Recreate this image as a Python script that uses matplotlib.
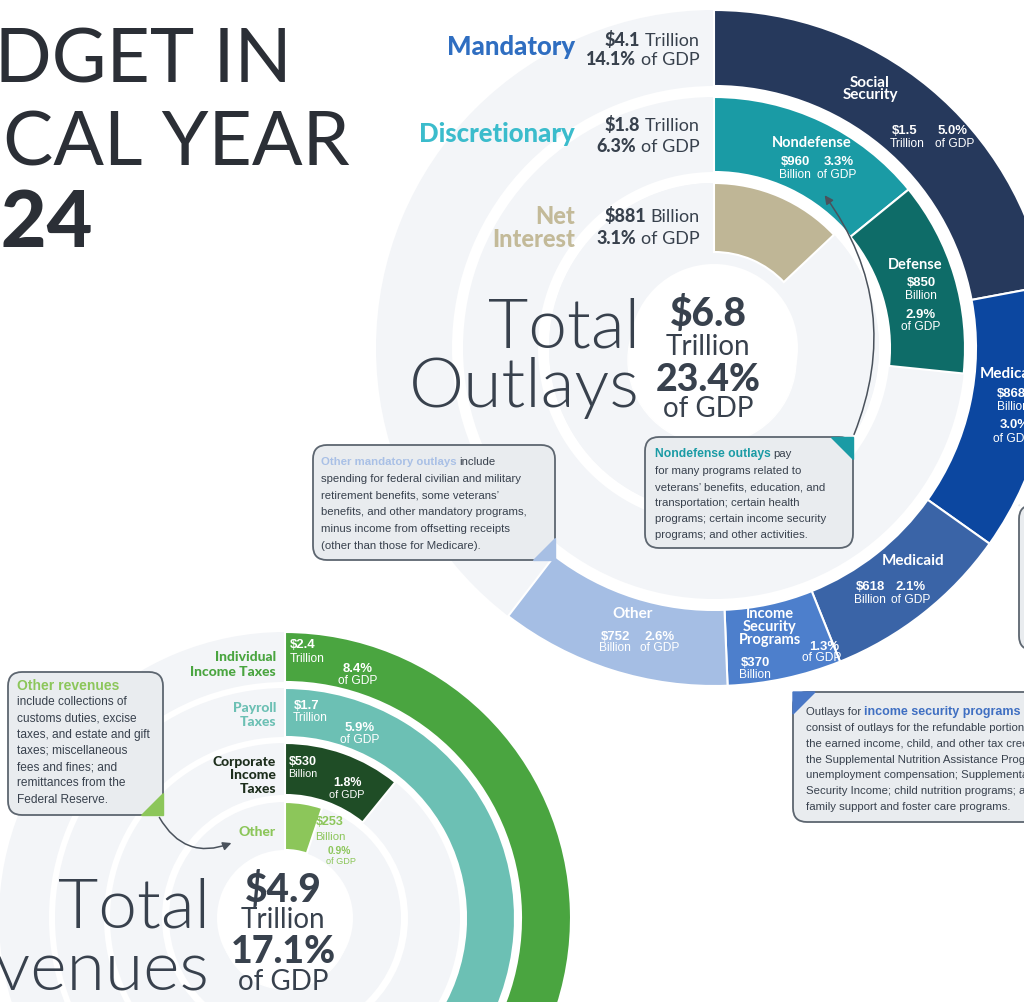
import matplotlib
matplotlib.use('Agg')
import matplotlib.pyplot as plt
from matplotlib.patches import Wedge, Circle, FancyBboxPatch, Polygon, FancyArrowPatch
from matplotlib import font_manager as fm

# ---- data (billions of dollars, % of GDP) ----
mand_names = ['Social\nSecurity', 'Medicare', 'Medicaid', 'Income\nSecurity\nPrograms', 'Other']
mand_vals = [1500, 868, 618, 370, 752]
mand_pct = [5.0, 3.0, 2.1, 1.3, 2.6]
disc_names = ['Nondefense', 'Defense']
disc_vals = [960, 850]
disc_pct = [3.3, 2.9]
int_vals = [881]
int_pct = [3.1]

group_names = ['Mandatory', 'Discretionary', 'Net\nInterest']
group_amt = ['$4.1', '$1.8', '$881']
group_unit = ['Trillion', 'Trillion', 'Billion']
group_pct = [14.1, 6.3, 3.1]

rev_names = ['Individual\nIncome Taxes', 'Payroll\nTaxes', 'Corporate\nIncome\nTaxes', 'Other']
rev_vals = [2400, 1700, 530, 253]
rev_pct = [8.4, 5.9, 1.8, 0.9]

total_out = ('$6.8', 'Trillion', 23.4)
total_rev = ('$4.9', 'Trillion', 17.1)

# ---- colours ----
mand_cols = ['#26395c', '#0c47a0', '#3a64a7', '#4d7fcc', '#a5bee4']
disc_cols = ['#1a9ba5', '#0e6c68']
int_cols = ['#bfb696']
group_cols = ['#2f6ec1', '#3bbccc', '#c3ba99']
rev_cols = ['#4aa540', '#6cc0b4', '#1f4d26', '#8cc65a']
rev_lab_cols = ['#4aa540', '#6cc0b4', '#1d2e1c', '#8cc65a']
GRAY = '#f3f5f8'
DARK = '#38414d'
BOXF = '#e9ecef'
BOXE = '#5d6670'

names = {f.name for f in fm.fontManager.ttflist}
NARROW = 'Liberation Sans Narrow' if 'Liberation Sans Narrow' in names else 'Liberation Sans'
NS = 1.0 if NARROW == 'Liberation Sans Narrow' else 0.82
HEAD = 'Lato' if 'Lato' in names else 'DejaVu Sans'

fig = plt.figure(figsize=(10.24, 10.02), dpi=100)
ax = fig.add_axes([0, 0, 1, 1])
ax.set_xlim(0, 1024)
ax.set_ylim(1002, 0)
ax.set_aspect('equal')
ax.axis('off')
R = fig.canvas.get_renderer()


def fmt_amt(v):
    if v >= 1000:
        return f'${v / 1000:.1f}', 'Trillion'
    return f'${v}', 'Billion'


def ring(center, vals, total, r_in, r_out, cols):
    # grey full ring first, then wedges clockwise from the top
    ax.add_patch(Wedge(center, r_out, 0, 360, width=r_out - r_in, color=GRAY, lw=0, zorder=1))
    start = -90.0
    for v, c in zip(vals, cols):
        sweep = v / total * 360
        ax.add_patch(Wedge(center, r_out, start, start + sweep, width=r_out - r_in,
                           facecolor=c, edgecolor='white', lw=1.5, zorder=2))
        start += sweep


def rich(x, y, parts, ha='right', va='baseline', family=HEAD, gap=0.28):
    seq = parts[::-1] if ha == 'right' else parts
    cx = x
    for s, w, c, size in seq:
        t = ax.text(cx, y, s, ha=ha, va=va, fontsize=size, fontweight=w, color=c,
                    family=family, zorder=6)
        wd = t.get_window_extent(R).width + gap * size * 1.389
        cx = cx - wd if ha == 'right' else cx + wd


def seg(x, y, s, bold=True, size=10, color='white', ha='center', family=None):
    fam = family or NARROW
    ax.text(x, y, s, ha=ha, va='center', fontsize=size * (NS if fam == NARROW else 1),
            fontweight='bold' if bold else 'normal', color=color, family=fam,
            zorder=6, linespacing=0.9)


def box(x0, y0, x1, y1, tri, tri_col, rs=14):
    ax.add_patch(FancyBboxPatch((x0, y0), x1 - x0, y1 - y0,
                                boxstyle=f'round,pad=0,rounding_size={rs}',
                                facecolor=BOXF, edgecolor=BOXE, lw=1.3, zorder=4))
    ax.add_patch(Polygon(tri, closed=True, color=tri_col, zorder=4.5))


# ================= OUTLAYS =================
OC = (714, 348)
out_total = sum(mand_vals) + sum(disc_vals) + sum(int_vals)
ring(OC, mand_vals, out_total, 262, 338, mand_cols)
ring(OC, disc_vals, out_total, 176, 251, disc_cols)
ax.add_patch(Wedge(OC, 165, 0, 360, width=165 - 84, color=GRAY, lw=0, zorder=1))
ring(OC, int_vals, out_total, 96, 165, int_cols)
ax.add_patch(Circle((712, 360), 84, color='white', zorder=1.5))

# group labels on the left
gy = [(55, 46, 65), (142, 131, 152), (None, 222, 244)]
for i, (name, col) in enumerate(zip(group_names, group_cols)):
    if '\n' in name:
        a, b = name.split('\n')
        ax.text(575, 224, a, ha='right', va='baseline', fontsize=17, fontweight='black',
                color=col, family=HEAD, zorder=6)
        ax.text(575, 247, b, ha='right', va='baseline', fontsize=17, fontweight='black',
                color=col, family=HEAD, zorder=6)
    else:
        ax.text(575, gy[i][0], name, ha='right', va='baseline', fontsize=18.5,
                fontweight='black', color=col, family=HEAD, zorder=6)
    rich(700, gy[i][1], [(group_amt[i], 'black', DARK, 13), (group_unit[i], 'normal', DARK, 13)])
    rich(700, gy[i][2], [(f'{group_pct[i]}%', 'black', DARK, 13), ('of GDP', 'normal', DARK, 13)])

# centre totals
ax.text(640, 347, 'Total', ha='right', va='baseline', fontsize=50, fontweight=300,
        color=DARK, family=HEAD, zorder=6)
ax.text(640, 407, 'Outlays', ha='right', va='baseline', fontsize=50, fontweight=300,
        color=DARK, family=HEAD, zorder=6)
ax.text(708, 326, total_out[0], ha='center', va='baseline', fontsize=28, fontweight='black',
        color=DARK, family=HEAD, zorder=6)
ax.text(708, 355, total_out[1], ha='center', va='baseline', fontsize=20, color=DARK,
        family=HEAD, zorder=6)
ax.text(708, 391, f'{total_out[2]}%', ha='center', va='baseline', fontsize=27,
        fontweight='black', color=DARK, family=HEAD, zorder=6)
ax.text(708, 417, 'of GDP', ha='center', va='baseline', fontsize=20, color=DARK,
        family=HEAD, zorder=6)

# segment labels
amt = [fmt_amt(v) for v in mand_vals]
seg(870, 89, mand_names[0], size=11, family=HEAD)
seg(905, 131, amt[0][0], size=11.5); seg(907, 144, amt[0][1], bold=False, size=10.5)
seg(953, 131, f'{mand_pct[0]}%', size=11.5); seg(955, 144, 'of GDP', bold=False, size=10.5)

seg(980, 374, 'Medicare', size=11, family=HEAD, ha='left')
seg(997, 394, amt[1][0], size=11.5, ha='left'); seg(997, 407, amt[1][1], bold=False, size=10.5, ha='left')
seg(1000, 425, f'{mand_pct[1]}%', size=11.5, ha='left'); seg(993, 439, 'of GDP', bold=False, size=10.5, ha='left')

seg(913, 561, mand_names[2], size=11, family=HEAD)
seg(870, 587, amt[2][0], size=11.5); seg(870, 600, amt[2][1], bold=False, size=10.5)
seg(911, 587, f'{mand_pct[2]}%', size=11.5); seg(911, 600, 'of GDP', bold=False, size=10.5)

seg(770, 627, mand_names[3], size=10.5, family=HEAD)
seg(755, 663, amt[3][0], size=11.5); seg(755, 675, amt[3][1], bold=False, size=10.5)
seg(824, 647, f'{mand_pct[3]}%', size=11.5); seg(822, 658, 'of GDP', bold=False, size=10.5)

seg(633, 614, mand_names[4], size=11, family=HEAD)
seg(615, 637, amt[4][0], size=11.5); seg(615, 648, amt[4][1], bold=False, size=10.5)
seg(660, 637, f'{mand_pct[4]}%', size=11.5); seg(660, 648, 'of GDP', bold=False, size=10.5)

damt = [fmt_amt(v) for v in disc_vals]
seg(812, 143, disc_names[0], size=10.5, family=HEAD)
seg(795, 162, damt[0][0], size=11.5); seg(795, 175, damt[0][1], bold=False, size=10.5)
seg(839, 162, f'{disc_pct[0]}%', size=11.5); seg(837, 175, 'of GDP', bold=False, size=10.5)
seg(915, 265, disc_names[1], size=10.5, family=HEAD)
seg(921, 283, damt[1][0], size=11.5); seg(921, 296, damt[1][1], bold=False, size=10.5)
seg(921, 315, f'{disc_pct[1]}%', size=11.5); seg(921, 327, 'of GDP', bold=False, size=10.5)

# callout boxes (outlays)
BS = 8.2 if NARROW != 'Liberation Sans Narrow' else 9
box(313, 445, 555, 560, [(533, 560), (555, 560), (555, 538)], '#a7bfe4')
rich(321, 462, [('Other mandatory outlays', 'bold', '#a9c0e6', BS), ('include', 'normal', DARK, BS)],
     ha='left', va='center', family=NARROW, gap=0.25)
for k, line in enumerate(['spending for federal civilian and military',
                          'retirement benefits, some veterans\u2019',
                          'benefits, and other mandatory programs,',
                          'minus income from offsetting receipts',
                          '(other than those for Medicare).']):
    ax.text(321, 479 + 16.7 * k, line, ha='left', va='center', fontsize=BS, color=DARK,
            family=NARROW, zorder=6)

box(645, 437, 853, 548, [(831, 437), (853, 437), (853, 459)], disc_cols[0])
rich(655, 454, [('Nondefense outlays', 'bold', disc_cols[0], BS + 0.5), ('pay', 'normal', DARK, BS)],
     ha='left', va='center', family=NARROW, gap=0.25)
for k, line in enumerate(['for many programs related to',
                          'veterans\u2019 benefits, education, and',
                          'transportation; certain health',
                          'programs; certain income security',
                          'programs; and other activities.']):
    ax.text(655, 471 + 16 * k, line, ha='left', va='center', fontsize=BS, color=DARK,
            family=NARROW, zorder=6)
ax.add_patch(FancyArrowPatch((853, 437), (823, 193), connectionstyle='arc3,rad=0.28',
                             arrowstyle='-|>,head_length=5,head_width=2.5', color='#4a525c',
                             lw=1.1, zorder=5))

box(793, 692, 1060, 822, [(793, 692), (815, 692), (793, 714)], '#4a78c6')
rich(806, 712, [('Outlays for', 'normal', DARK, BS), ('income security programs', 'bold', '#3f6fc2', BS + 0.8)],
     ha='left', va='center', family=NARROW, gap=0.25)
for k, line in enumerate(['consist of outlays for the refundable portions of',
                          'the earned income, child, and other tax credits;',
                          'the Supplemental Nutrition Assistance Program;',
                          'unemployment compensation; Supplemental',
                          'Security Income; child nutrition programs; and',
                          'family support and foster care programs.']):
    ax.text(806, 728 + 15.8 * k, line, ha='left', va='center', fontsize=BS, color=DARK,
            family=NARROW, zorder=6)

box(1019, 505, 1120, 650, [(1019, 505), (1020, 505), (1019, 506)], BOXF)

# ================= REVENUES =================
RC = (285, 918)
rev_total = sum(rev_vals)
radii = [(236, 286), (181, 230), (123, 175), (68, 116)]
for (ri, ro), v, c in zip(radii, rev_vals, rev_cols):
    ring(RC, [v], rev_total, ri, ro, [c])
ax.add_patch(Circle((285, 925), 64, color='white', zorder=1.5))

# group labels
rev_lab_y = [[657, 672], [708, 722], [762, 775, 789], [832]]
for name, col, ys in zip(rev_names, rev_lab_cols, rev_lab_y):
    for line, yy in zip(name.split('\n'), ys):
        ax.text(276, yy, line, ha='right', va='center', fontsize=10, fontweight='black',
                color=col, family=HEAD, zorder=6)

ramt = [fmt_amt(v) for v in rev_vals]
seg(290, 645, ramt[0][0], size=11.5, ha='left'); seg(290, 659, ramt[0][1], bold=False, size=10.5, ha='left')
seg(358, 669, f'{rev_pct[0]}%', size=11.5); seg(358, 681, 'of GDP', bold=False, size=10.5)
seg(307, 706, ramt[1][0], size=11.5); seg(310, 718, ramt[1][1], bold=False, size=10.5)
seg(360, 728, f'{rev_pct[1]}%', size=11.5); seg(360, 740, 'of GDP', bold=False, size=10.5)
seg(303, 762, ramt[2][0], size=11); seg(303, 774, ramt[2][1], bold=False, size=9.5)
seg(347, 783, f'{rev_pct[2]}%', size=11); seg(347, 795, 'of GDP', bold=False, size=9.5)
seg(330, 822, ramt[3][0], size=11, color=rev_cols[3]); seg(330, 837, ramt[3][1], bold=False, size=10, color=rev_cols[3])
seg(339, 851, f'{rev_pct[3]}%', size=9, color=rev_cols[3]); seg(341, 862, 'of GDP', bold=False, size=8, color=rev_cols[3])

ax.text(210, 928, 'Total', ha='right', va='baseline', fontsize=50, fontweight=300,
        color=DARK, family=HEAD, zorder=6)
ax.text(210, 990, 'Revenues', ha='right', va='baseline', fontsize=50, fontweight=300,
        color=DARK, family=HEAD, zorder=6)
ax.text(283, 902, total_rev[0], ha='center', va='baseline', fontsize=28, fontweight='black',
        color=DARK, family=HEAD, zorder=6)
ax.text(283, 928, total_rev[1], ha='center', va='baseline', fontsize=20, color=DARK,
        family=HEAD, zorder=6)
ax.text(283, 963, f'{total_rev[2]}%', ha='center', va='baseline', fontsize=27,
        fontweight='black', color=DARK, family=HEAD, zorder=6)
ax.text(283, 990, 'of GDP', ha='center', va='baseline', fontsize=20, color=DARK,
        family=HEAD, zorder=6)

box(8, 672, 163, 815, [(141, 815), (163, 815), (163, 793)], rev_cols[3])
ax.text(17, 686, 'Other revenues', ha='left', va='center', fontsize=BS + 1.8, fontweight='bold',
        color=rev_cols[3], family=NARROW, zorder=6)
for k, line in enumerate(['include collections of', 'customs duties, excise',
                          'taxes, and estate and gift', 'taxes; miscellaneous',
                          'fees and fines; and', 'remittances from the', 'Federal Reserve.']):
    ax.text(17, 702 + 16.3 * k, line, ha='left', va='center', fontsize=BS + 0.4, color=DARK,
            family=NARROW, zorder=6)
ax.add_patch(FancyArrowPatch((158, 815), (234, 842), connectionstyle='arc3,rad=0.45',
                             arrowstyle='-|>,head_length=5,head_width=2.5', color='#4a525c',
                             lw=1.1, zorder=5))

# ================= TITLE =================
ax.text(292, 82, 'BUDGET IN', ha='right', va='baseline', fontsize=54, fontweight='normal',
        color='#2b2f36', family=HEAD, zorder=6)
ax.text(350, 165, 'FISCAL YEAR', ha='right', va='baseline', fontsize=54, fontweight='normal',
        color='#2b2f36', family=HEAD, zorder=6)
ax.text(93, 247, '2024', ha='right', va='baseline', fontsize=57, fontweight='black',
        color='#2b2f36', family=HEAD, zorder=6)

fig.savefig('out.png', dpi=100)
